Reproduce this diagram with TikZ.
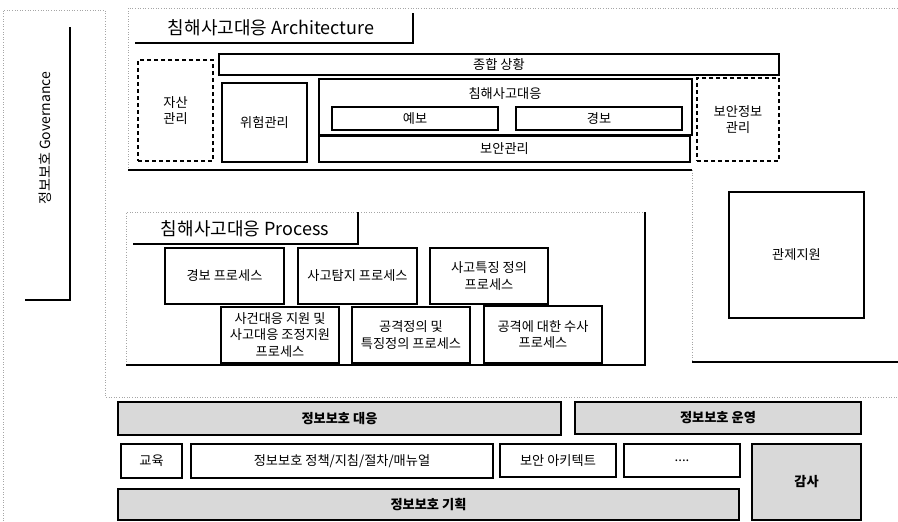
\documentclass[tikz,border=0pt]{standalone}
\usepackage{fontspec}
\setmainfont{Noto Sans CJK KR}
\newcommand{\mkbox}[7]{\node[#1, minimum width={(#4-#2)*1pt}, minimum height={(#5-#3)*1pt}] (#6) at ({(#2+#4)/2},{(#3+#5)/2}) {#7};}
\begin{document}
\begin{tikzpicture}[x=1pt,y=-1pt,
  bx/.style={draw, line width=1.3pt, fill=white, inner sep=0pt, align=center, font=\fontsize{13.2}{16.5}\selectfont},
  dbx/.style={bx, dash pattern=on 4pt off 3pt},
  gbx/.style={bx, fill=gray!30, line width=1.7pt, font=\fontsize{13.2}{16.5}\selectfont\bfseries},
  faint/.style={draw=gray!70, line width=0.6pt, dotted},
  tabline/.style={line width=1.8pt},
  framel/.style={line width=1.5pt},
  lbl/.style={inner sep=0pt, font=\fontsize{13.2}{16.5}\selectfont},
  ttl/.style={inner sep=0pt, font=\fontsize{18}{20}\selectfont}]
\useasboundingbox (0,0) rectangle (898,522);
% frames
\draw[faint] (3,521) -- (3,10) -- (105,10) -- (105,397) -- (898,397);
\draw[faint] (128,170) -- (128,8) -- (898,8);
\draw[framel] (128,170) -- (692,170);
\draw[faint] (692,170) -- (692,362);
\draw[framel] (692,362) -- (898,362);
\draw[faint] (645,212) -- (126,212) -- (126,365);
\draw[framel] (126,365) -- (645,365) -- (645,212);
% governance
\node[rotate=90, inner sep=0pt, font=\fontsize{14}{16}\selectfont] (gov) at (45,138) {정보보호 Governance};
\draw[tabline] (70,27) -- (70,300) -- (25,300);
% architecture
\node[ttl] (atitle) at (271,28) {침해사고대응 Architecture};
\draw[tabline] (135,43) -- (413,43) -- (413,13);
\mkbox{dbx}{138}{60}{213}{161}{asset}{자산\\관리}
\mkbox{bx}{222}{83}{307}{162}{risk}{위험관리}
\mkbox{bx}{219}{54}{779}{75}{sit}{종합 상황}
\mkbox{bx}{319}{79}{692}{135}{ir}{}
\node[lbl] (irl) at (505,94) {침해사고대응};
\mkbox{bx}{332}{107}{498}{130}{fore}{예보}
\mkbox{bx}{516}{107}{682}{130}{alert}{경보}
\mkbox{bx}{319}{136}{690}{162}{secm}{보안관리}
\mkbox{dbx}{697}{78}{779}{161}{sim}{보안정보\\관리}
\mkbox{bx}{729}{192}{864}{318}{ctrl}{관제지원}
% process
\node[ttl] (ptitle) at (245,229) {침해사고대응 Process};
\draw[tabline] (133,244) -- (358,244) -- (358,212);
\mkbox{bx}{165}{248}{284}{304}{p1}{경보 프로세스}
\mkbox{bx}{298}{248}{417}{304}{p2}{사고탐지 프로세스}
\mkbox{bx}{430}{248}{548}{304}{p3}{사고특징 정의\\프로세스}
\mkbox{bx}{221}{307}{339}{363}{p4}{사건대응 지원 및\\사고대응 조정지원\\프로세스}
\mkbox{bx}{352}{307}{470}{363}{p5}{공격정의 및\\특징정의 프로세스}
\mkbox{bx}{484}{306}{602}{363}{p6}{공격에 대한 수사\\프로세스}
% bottom
\mkbox{gbx}{118}{402}{561}{435}{resp}{정보보호 대응}
\mkbox{gbx}{575}{402}{861}{434}{oper}{정보보호 운영}
\mkbox{bx}{121}{444}{182}{478}{edu}{교육}
\mkbox{bx}{191}{444}{493}{478}{pol}{정보보호 정책/지침/절차/매뉴얼}
\mkbox{bx}{500}{444}{616}{477}{sarch}{보안 아키텍트}
\mkbox{bx}{624}{444}{740}{477}{etc}{....}
\mkbox{gbx}{752}{444}{861}{520}{audit}{감사}
\mkbox{gbx}{118}{489}{739}{520}{plan}{정보보호 기획}
\end{tikzpicture}
\end{document}
